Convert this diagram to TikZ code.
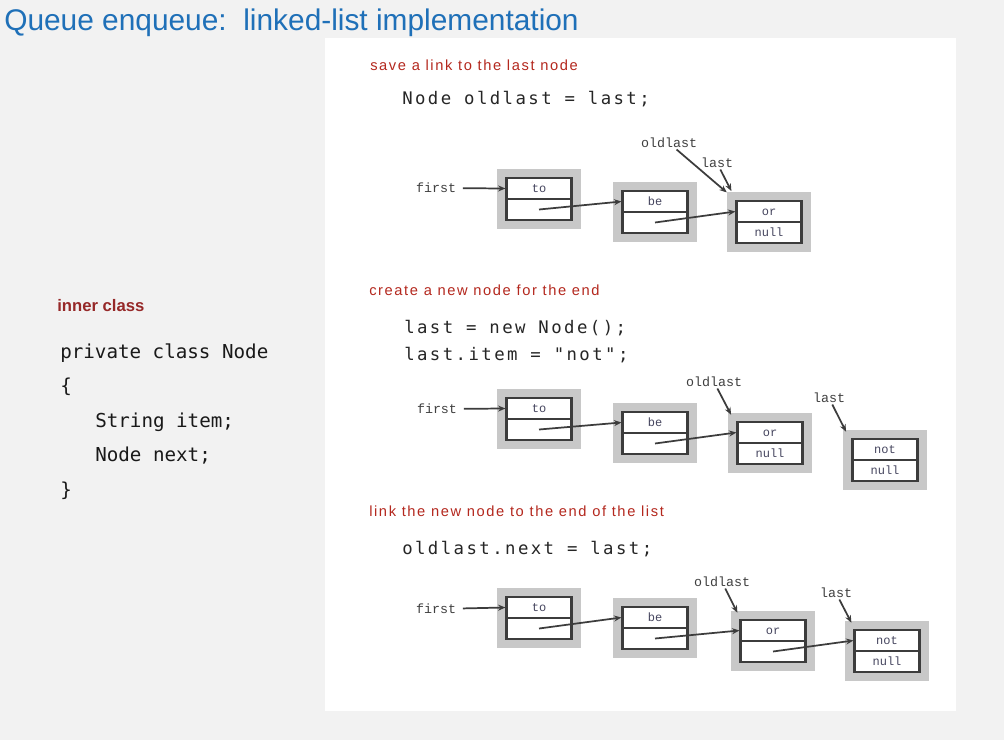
\documentclass[tikz,border=0pt]{standalone}
\usepackage{fontspec}
\setmainfont{Liberation Sans}
\newfontfamily\codefont{DejaVu Sans Mono}
\newfontfamily\rcodefont[LetterSpace=14]{DejaVu Sans Mono}
\newfontfamily\lblfont{Liberation Mono}
\newfontfamily\headfont[LetterSpace=11]{Liberation Sans}
\usetikzlibrary{arrows.meta}
\definecolor{bgc}{RGB}{242,242,242}
\definecolor{titleblue}{RGB}{31,112,184}
\definecolor{darkred}{RGB}{150,40,40}
\definecolor{headred}{RGB}{180,40,30}
\definecolor{boxgray}{RGB}{200,200,200}
\definecolor{linec}{RGB}{60,60,60}
\definecolor{celltext}{RGB}{70,70,95}
\tikzset{
 outerbox/.style={fill=boxgray, minimum width=63pt, minimum height=45pt, inner sep=0pt, draw=none},
 cellbox/.style={draw=linec, fill=white, line width=1.6pt, minimum width=48.75pt, minimum height=15.75pt, inner sep=0pt, text height=1.4ex, text depth=0.2ex, font=\lblfont\fontsize{9}{10}\selectfont, text=celltext},
 lbl/.style={font=\lblfont\fontsize{10}{12}\selectfont, text=black!75, inner sep=1pt},
 ptr/.style={draw=linec, line width=1.3pt, -{Stealth[length=5.5pt,width=4.5pt]}},
 heading/.style={font=\headfont\fontsize{11}{12}\selectfont, text=headred, anchor=base west, inner sep=0pt},
 rcode/.style={font=\rcodefont\fontsize{13}{15}\selectfont, text=black!85, anchor=base west, inner sep=0pt},
 lcode/.style={font=\codefont\fontsize{14.4}{16}\selectfont, text=black!90, anchor=base west, inner sep=0pt},
}
\newcommand{\listnode}[5]{%
 \node[outerbox] (#1) at (#2,#3) {};
 \node[cellbox] (#1t) at (#2,#3-10.5) {#4};
 \node[cellbox] (#1b) at (#2,#3+10.5) {#5};
}
\begin{document}
\begin{tikzpicture}[x=0.75pt,y=-0.75pt]
\fill[bgc] (0,0) rectangle (1004,740);
\useasboundingbox (0,0) rectangle (1004,740);
\fill[white] (325,38) rectangle (956,711);

\node[font=\fontsize{22.4}{26}\selectfont, text=titleblue, anchor=base west, inner sep=0pt] (title) at (4,30) {Queue enqueue:\ \ linked-list implementation};

\node[font=\bfseries\fontsize{12.5}{14}\selectfont, text=darkred, anchor=base west, inner sep=0pt] (ic) at (57,311) {inner class};
\node[lcode] (l1) at (60,358) {private class Node};
\node[lcode] (l2) at (60,392) {\{};
\node[lcode] (l3) at (95,427) {String item;};
\node[lcode] (l4) at (95,461) {Node next;};
\node[lcode] (l5) at (60,496) {\}};

% section 1
\node[heading] (h1) at (370,70) {save a link to the last node};
\node[rcode] (code1) at (402,104) {Node oldlast = last;};
\listnode{a1}{539}{199}{to}{}
\listnode{b1}{655}{212}{be}{}
\listnode{c1}{769}{222}{or}{null}
\node[lbl] (f1) at (436,188) {first};
\node[lbl] (o1) at (669,143) {oldlast};
\node[lbl] (s1) at (717,163) {last};
\draw[ptr, shorten <=4pt] (f1) -- (a1t.west);
\draw[ptr] (a1b.center) -- (b1t.west);
\draw[ptr] (b1b.center) -- (c1t.west);
\draw[ptr] (o1) -- ([xshift=0pt,yshift=-0.5pt]c1.north west);
\draw[ptr] (s1) -- ([xshift=3.5pt,yshift=0.5pt]c1.north west);

% section 2
\node[heading] (h2) at (369,295) {create a new node for the end};
\node[rcode] (code2) at (404,333) {last = new Node();};
\node[rcode] (code3) at (404,360) {last.item = "not";};
\listnode{a2}{539}{419}{to}{}
\listnode{b2}{655}{433}{be}{}
\listnode{c2}{770}{443}{or}{null}
\listnode{d2}{885}{460}{not}{null}
\node[lbl] (f2) at (437,409) {first};
\node[lbl] (o2) at (714,382) {oldlast};
\node[lbl] (s2) at (829,398) {last};
\draw[ptr, shorten <=4pt] (f2) -- (a2t.west);
\draw[ptr] (a2b.center) -- (b2t.west);
\draw[ptr] (b2b.center) -- (c2t.west);
\draw[ptr] (o2) -- ([xshift=2.5pt,yshift=-1.5pt]c2.north west);
\draw[ptr] (s2) -- ([xshift=2.5pt,yshift=-1.5pt]d2.north west);

% section 3
\node[heading] (h3) at (369,516) {link the new node to the end of the list};
\node[rcode] (code4) at (402,554) {oldlast.next = last;};
\listnode{a3}{539}{618}{to}{}
\listnode{b3}{655}{628}{be}{}
\listnode{c3}{773}{641}{or}{}
\listnode{d3}{887}{651}{not}{null}
\node[lbl] (f3) at (436,609) {first};
\node[lbl] (o3) at (722,582) {oldlast};
\node[lbl] (s3) at (836,593) {last};
\draw[ptr, shorten <=4pt] (f3) -- (a3t.west);
\draw[ptr] (a3b.center) -- (b3t.west);
\draw[ptr] (b3b.center) -- (c3t.west);
\draw[ptr] (c3b.center) -- (d3t.west);
\draw[ptr] (o3) -- ([xshift=5pt,yshift=-1.5pt]c3.north west);
\draw[ptr] (s3) -- ([xshift=5pt,yshift=-1.5pt]d3.north west);
\end{tikzpicture}
\end{document}
